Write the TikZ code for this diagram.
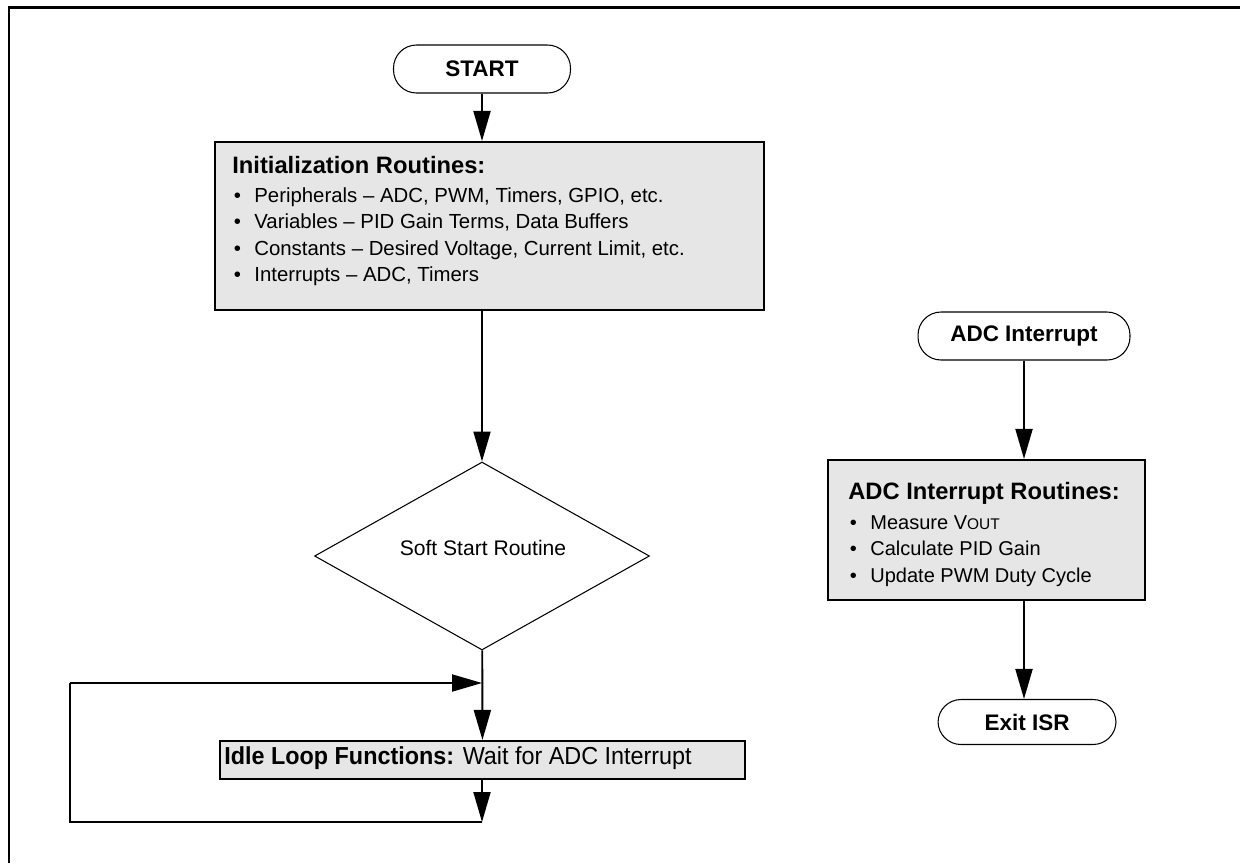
\documentclass[tikz,border=0pt]{standalone}
\usepackage{fontspec}
\setmainfont{Liberation Sans}
\newfontfamily\narrowfont[FakeStretch=0.95]{Liberation Sans}
\usetikzlibrary{shapes.geometric,arrows.meta}
\definecolor{boxgray}{RGB}{230,230,230}
\newcommand{\bul}{\makebox[0.44cm][l]{\hspace{0.03cm}\textbullet}}
\newcommand{\titlefont}{\fontsize{13.5}{15}\selectfont\bfseries}
\tikzstyle{terminal}=[shape = rectangle, rounded corners = 0.46cm, draw, line width = 0.6pt, minimum height = 0.96cm, font = \fontsize{12.8}{15}\selectfont\bfseries]
\tikzstyle{routine}=[shape = rectangle, draw, line width = 1.2pt, fill = boxgray, inner sep = 0pt]
\tikzstyle{routineText}=[inner sep = 0pt, align = left, font = \fontsize{11.6}{15}\selectfont]
\tikzstyle{decision}=[shape = diamond, draw, line width = 0.6pt, inner sep = 0pt]

\begin{document}
\begin{tikzpicture}[x = 0.02cm, y = -0.02cm]
\tikzstyle{flowLine}=[line width = 1.1pt]
\tikzstyle{flow}=[flowLine, -{Triangle[length = 0.6cm, width = 0.34cm]}]
\useasboundingbox (0,0) rectangle (1243,863);
\draw[line width = 0.06cm] (9,863) -- (9,7) -- (1240,7);
% main column
\node[terminal, minimum width = 3.54cm] (start) at (482,69) {START};
\node[routine, minimum width = 10.98cm, minimum height = 3.36cm] (init) at (489.5,226) {};
\node[routineText, anchor = north west] (initText) at (232,156) {{\titlefont Initialization Routines:}\\[1.5pt]
\bul Peripherals -- ADC, PWM, Timers, GPIO, etc.\\
\bul Variables -- PID Gain Terms, Data Buffers\\
\bul Constants -- Desired Voltage, Current Limit, etc.\\
\bul Interrupts -- ADC, Timers};
\node[decision, minimum width = 6.7cm, minimum height = 3.76cm] (soft) at (482,556) {};
\node[inner sep = 0pt, font = \fontsize{12}{14}\selectfont] (softText) at (483,548) {Soft Start Routine};
\node[routine, minimum width = 10.5cm, minimum height = 0.76cm] (idle) at (482.5,760) {};
\node[inner sep = 0pt, anchor = west, font = \fontsize{14}{16}\selectfont\narrowfont] (idleText) at (224,758) {\textbf{Idle Loop Functions:} Wait for ADC Interrupt};
\coordinate (c0) at (482,822);
\coordinate (c1) at (70,822);
\coordinate (c2) at (70,683);
\coordinate (c3) at (482,683);
\draw[flow] (start) -- (start |- init.north);
\draw[flow] (init.south -| soft.north) -- (soft.north);
\draw[flow] (soft) -- (idle);
\draw[flow] (idle.south -| c0) -- (c0);
\draw[flowLine] (c0) -- (c1) -- (c2);
\draw[flow] (c2) -- (c3);
% interrupt column
\node[terminal, minimum width = 4.24cm] (adc) at (1024,336) {ADC Interrupt};
\node[routine, minimum width = 6.34cm, minimum height = 2.8cm] (adcr) at (986.5,530) {};
\node[routineText, anchor = north west, font = \fontsize{11.4}{15}\selectfont] (adcrText) at (848,482) {{\titlefont ADC Interrupt Routines:}\\[2pt]
\bul Measure V{\fontsize{8.8}{10}\selectfont OUT}\\
\bul Calculate PID Gain\\
\bul Update PWM Duty Cycle};
\node[terminal, minimum width = 3.56cm, minimum height = 0.9cm] (exit) at (1027,722) {Exit ISR};
\draw[flow] (adc.south) -- (adc.south |- adcr.north);
\draw[flow] (adcr.south -| adc.south) -- (exit.north -| adc.south);
\end{tikzpicture}
\end{document}
